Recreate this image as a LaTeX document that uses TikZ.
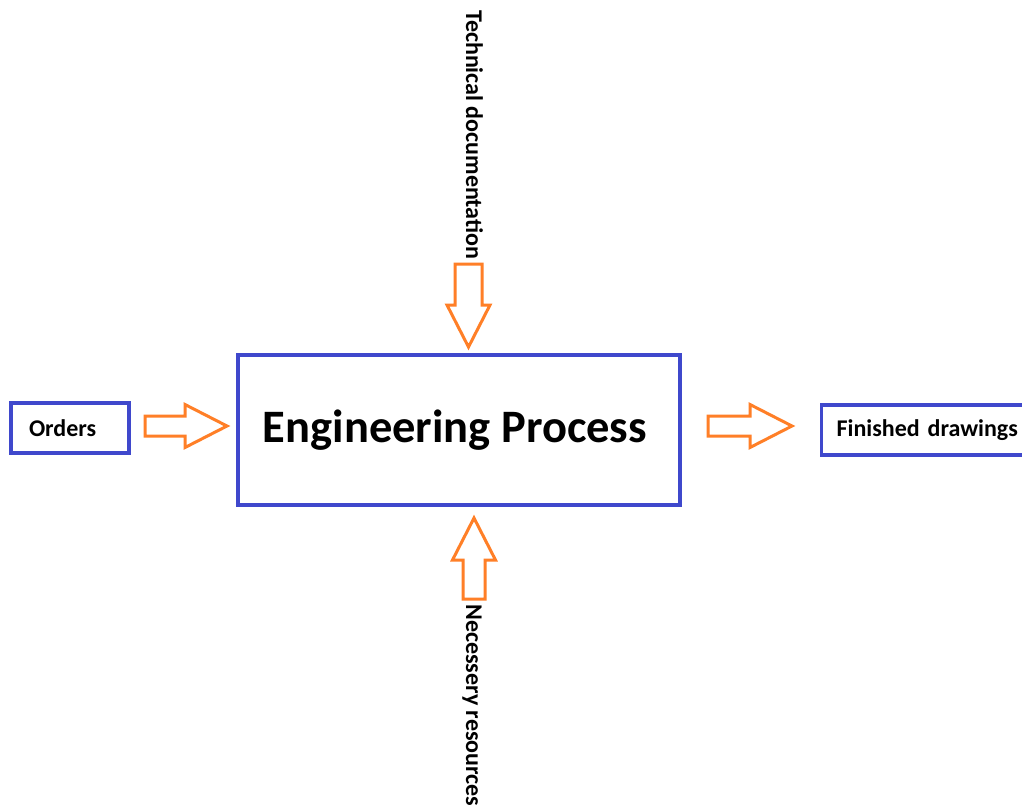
\documentclass[tikz,border=0pt]{standalone}
\usepackage{fontspec}
\setmainfont{Carlito}
\definecolor{paintblue}{RGB}{63,72,204}
\definecolor{paintorange}{RGB}{255,127,39}
\tikzset{
  box/.style={draw=paintblue, line width=3.2pt, fill=white, font=\bfseries\fontsize{24}{28}\selectfont},
  arrowline/.style={draw=paintorange, line width=3pt, fill=white, line join=miter},
  vlabel/.style={font=\bfseries\fontsize{24}{28}\selectfont, inner sep=0pt},
  pics/blockarrow/.style 2 args={code={
    \draw[arrowline] (0,-#2) -- ({#1-42},-#2) -- ({#1-42},-21.5) -- (#1,0)
      -- ({#1-42},21.5) -- ({#1-42},#2) -- (0,#2) -- cycle;
  }}
}
\begin{document}
\begin{tikzpicture}[x=1pt, y=-1pt]
  \useasboundingbox[fill=white] (0,0) rectangle (1022,807);

  % process and its inputs/outputs
  \node[box, minimum width=442pt, minimum height=150pt, font=\bfseries\fontsize{46.5}{52}\selectfont]
    (process) at (459,430) {\hspace*{-8pt}Engineering Process};
  \node[box, minimum width=118pt, minimum height=50pt, inner xsep=18pt, text width=82pt, align=left]
    (orders) at (70,428) {Orders};
  \node[box, anchor=west, minimum height=50pt, inner xsep=15pt, text width=190pt, align=left]
    (finished) at (820,430) {Finished drawings};

  % vertical labels
  \node[vlabel, rotate=-90, anchor=base west] (techdoc) at (466,10) {Technical documentation};
  \node[vlabel, rotate=-90, anchor=base west] (resources) at (466,604) {Necessery resources};

  % block arrows
  \coordinate (inTail) at (145,426);
  \coordinate (outTail) at (708,426);
  \coordinate (docTail) at (468.5,264);
  \coordinate (resTail) at (474,599);
  \pic at (inTail) {blockarrow={82}{10}};
  \pic at (outTail) {blockarrow={84}{10}};
  \pic[rotate=-90] at (docTail) {blockarrow={83}{13.5}};
  \pic[rotate=90] at (resTail) {blockarrow={81}{11}};
\end{tikzpicture}
\end{document}
